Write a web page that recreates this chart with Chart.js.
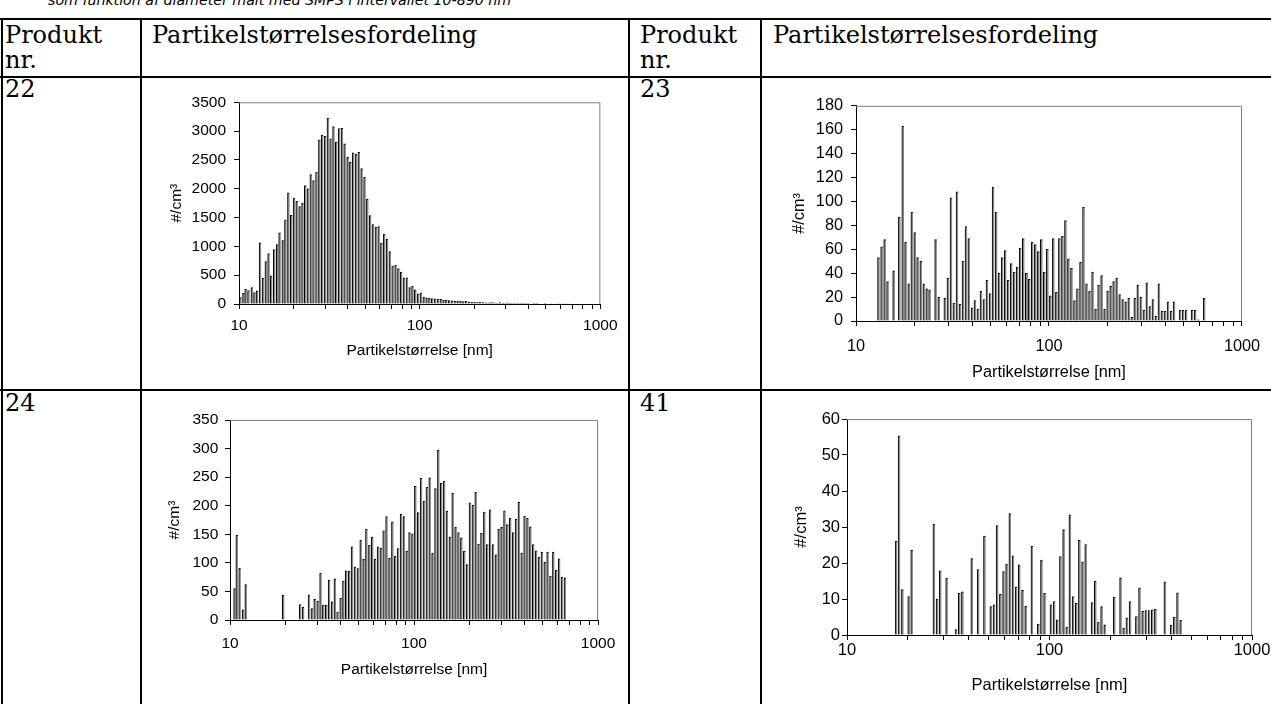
<!DOCTYPE html>
<html lang="da">
<head>
  <meta charset="UTF-8" />
  <title>Partikelstørrelsesfordeling</title>
  <script src="https://cdn.jsdelivr.net/npm/chart.js"></script>
  <style>
    body { margin: 0; width: 1271px; height: 704px; overflow: hidden; background: #fff; position: relative; }
    .line { position: absolute; background: #000; }
    .txt { position: absolute; font-family: "DejaVu Serif", serif; font-size: 24px; line-height: 25px; color: #000; white-space: nowrap; }
    .intro { position: absolute; left: 48px; top: -8px; font-family: "DejaVu Sans", sans-serif; font-style: italic; font-size: 14.2px; line-height: 16px; white-space: nowrap; }
    .box { position: absolute; }
  </style>
</head>
<body>
  <div class="intro">som funktion af diameter målt med SMPS i intervallet 10-890 nm</div>

  <div class="line" style="left:0;top:18px;width:1271px;height:1.5px"></div>
  <div class="line" style="left:0;top:76px;width:1271px;height:1.5px"></div>
  <div class="line" style="left:0;top:389px;width:1271px;height:1.5px"></div>
  <div class="line" style="left:1px;top:18px;width:1.5px;height:686px"></div>
  <div class="line" style="left:140px;top:18px;width:1.5px;height:686px"></div>
  <div class="line" style="left:628px;top:18px;width:1.5px;height:686px"></div>
  <div class="line" style="left:760px;top:18px;width:1.5px;height:686px"></div>

  <div class="txt" style="left:5px;top:23px">Produkt<br>nr.</div>
  <div class="txt" style="left:152px;top:23px">Partikelstørrelsesfordeling</div>
  <div class="txt" style="left:640px;top:23px">Produkt<br>nr.</div>
  <div class="txt" style="left:773px;top:23px">Partikelstørrelsesfordeling</div>
  <div class="txt" style="left:5px;top:77px">22</div>
  <div class="txt" style="left:640px;top:77px">23</div>
  <div class="txt" style="left:5px;top:391px">24</div>
  <div class="txt" style="left:640px;top:391px">41</div>

  <div class="box" style="left:145px;top:85px"><canvas id="c22" width="480" height="290"></canvas></div>
  <div class="box" style="left:770px;top:88px"><canvas id="c23" width="501" height="298"></canvas></div>
  <div class="box" style="left:145px;top:404px"><canvas id="c24" width="480" height="296"></canvas></div>
  <div class="box" style="left:770px;top:406px"><canvas id="c41" width="501" height="294"></canvas></div>

  <script>
    // SMPS channel midpoints, nm (64 channels per decade)
    const diameters = [
      10.2, 10.6, 10.9, 11.3, 11.8, 12.2, 12.6, 13.1, 13.6, 14.1,
      14.6, 15.1, 15.7, 16.3, 16.8, 17.5, 18.1, 18.8, 19.5, 20.2,
      20.9, 21.7, 22.5, 23.3, 24.1, 25.0, 25.9, 26.9, 27.9, 28.9,
      30.0, 31.1, 32.2, 33.4, 34.6, 35.9, 37.2, 38.5, 40.0, 41.4,
      42.9, 44.5, 46.1, 47.8, 49.6, 51.4, 53.3, 55.2, 57.3, 59.4,
      61.5, 63.8, 66.1, 68.5, 71.0, 73.7, 76.4, 79.1, 82.0, 85.1,
      88.2, 91.4, 94.7, 98.2, 101.8, 105.5, 109.4, 113.4, 117.6, 121.9,
      126.3, 131.0, 135.8, 140.7, 145.9, 151.2, 156.8, 162.5, 168.5, 174.7,
      181.1, 187.7, 194.6, 201.7, 209.1, 216.7, 224.7, 232.9, 241.4, 250.3,
      259.5, 269.0, 278.8, 289.0, 299.6, 310.6, 322.0, 333.8, 346.0, 358.7,
      371.8, 385.4, 399.5, 414.2, 429.4, 445.1, 461.4, 478.3, 495.8, 514.0,
      532.8, 552.3, 572.5, 593.5, 615.3, 637.8, 661.2
    ];

    const product22 = [
      110, 190, 255, 235, 285, 200, 230, 1060, 450, 735,
      875, 490, 945, 1030, 1235, 1100, 1460, 1930, 1540, 1840,
      1780, 1690, 1750, 2055, 2000, 2245, 2140, 2290, 2850, 2930,
      2910, 3225, 2865, 3080, 2810, 3045, 3050, 2780, 2545, 2460,
      2625, 2600, 2630, 2350, 2200, 1820, 1535, 1380, 1335, 1345,
      1055, 1210, 1125, 910, 660, 675, 615, 555, 455, 455,
      285, 310, 245, 175, 195, 120, 105, 100, 95, 90,
      85, 80, 70, 65, 60, 55, 50, 50, 45, 40,
      45, 35, 30, 30, 25, 35, 25, 20, 20, 25,
      20, 18, 25, 15, 15, 20, 12, 15, 12, 10,
      15, 10, 12, 8, 10, 10, 8, 8, 10, 8,
      6, 8, 6, 5, 6, 4, 5
    ];

    const product23 = [
      0, 0, 0, 0, 0, 0, 0, 53, 62, 68,
      33, 0, 42, 0, 87, 163, 66, 31, 91, 74,
      53, 50, 31, 27, 26, 0, 68, 20, 0, 19,
      36, 103, 15, 108, 14, 50, 79, 69, 11, 17,
      10, 25, 18, 34, 23, 112, 91, 40, 53, 59,
      34, 48, 41, 45, 61, 69, 40, 35, 66, 64,
      58, 68, 41, 60, 21, 69, 24, 69, 71, 84,
      52, 44, 17, 27, 49, 95, 31, 25, 41, 10,
      30, 38, 10, 25, 29, 33, 36, 22, 18, 16,
      19, 3, 19, 30, 20, 9, 32, 12, 18, 4,
      31, 8, 8, 16, 8, 16, 0, 9, 9, 9,
      0, 9, 9, 1, 0, 19, 0
    ];

    const product24 = [
      0, 55, 148, 91, 18, 62, 0, 0, 0, 0,
      0, 0, 0, 0, 0, 0, 0, 0, 43, 0,
      0, 0, 0, 0, 27, 22, 0, 44, 20, 36,
      33, 82, 26, 26, 70, 32, 72, 14, 38, 68,
      86, 85, 128, 93, 90, 140, 106, 159, 131, 145,
      106, 128, 126, 156, 181, 108, 172, 112, 125, 185,
      181, 120, 153, 151, 234, 188, 248, 208, 232, 249,
      117, 230, 297, 239, 243, 190, 145, 222, 162, 153,
      144, 120, 97, 205, 201, 224, 133, 152, 189, 132,
      193, 132, 114, 159, 162, 191, 167, 178, 153, 176,
      206, 117, 182, 178, 163, 132, 121, 110, 119, 101,
      119, 77, 119, 87, 107, 75, 74
    ];

    const product41 = [
      0, 0, 0, 0, 0, 0, 0, 0, 0, 0,
      0, 0, 0, 0, 0, 26, 55.3, 12.6, 0, 10.7,
      23.5, 0, 0, 0, 0, 0, 0, 30.8, 10, 17.8,
      0, 15.8, 0, 0, 1.5, 11.6, 12, 0, 0, 21.2,
      0, 18.2, 0, 27.5, 0, 7.9, 8.4, 30.4, 11.3, 17.6,
      19.7, 33.7, 22, 13.3, 19.5, 12.4, 8, 0, 24.6, 0,
      3, 20.8, 11.6, 0, 8.4, 9.3, 4.2, 21.8, 29.3, 2.2,
      33.4, 10.7, 8.8, 26.4, 20.3, 25.1, 0, 9, 14.9, 3.6,
      7.9, 2.8, 0, 0, 10.5, 0, 15.9, 1.9, 4.8, 9.3,
      0, 5.1, 13.1, 6.6, 6.8, 6.8, 7, 7.1, 0, 0,
      14.8, 0, 2.7, 5, 11.7, 4.1, 0, 0, 0, 0,
      0, 0, 0, 0, 0, 0, 0
    ];

    const xTickValues = [10, 20, 30, 40, 50, 60, 70, 80, 90, 100, 200, 300, 400, 500, 600, 700, 800, 900, 1000];
    const xTickLabels = [10, 100, 1000];
    const xTitle = 'Partikelstørrelse [nm]';
    const yTitle = '#/cm³';

    // plot frame (grey top and right edge like the Excel original)
    const plotFrame = {
      id: 'plotFrame',
      beforeDatasetsDraw(chart) {
        const { ctx, chartArea: a } = chart;
        ctx.save();
        ctx.strokeStyle = '#808080';
        ctx.lineWidth = 1;
        ctx.beginPath();
        ctx.moveTo(a.left, a.top + 0.5);
        ctx.lineTo(a.right - 0.5, a.top + 0.5);
        ctx.lineTo(a.right - 0.5, a.bottom);
        ctx.stroke();
        ctx.restore();
      }
    };

    function makeChart(id, values, g) {
      const canvas = document.getElementById(id);
      const font = { family: 'Liberation Sans, Arial, sans-serif', size: g.font };
      const yAxisW = g.area.l - g.box.x;
      const xAxisH = g.box.y + g.box.h - g.area.b;

      return new Chart(canvas, {
        type: 'bar',
        data: {
          labels: diameters,
          datasets: [{
            data: values,
            backgroundColor: '#8a8a8a',
            borderColor: '#000',
            borderWidth: { left: 1, top: 1, right: 0, bottom: 0 },
            barThickness: g.bar
          }]
        },
        options: {
          responsive: false,
          animation: false,
          layout: { padding: { left: 0, top: g.area.t - g.box.y, right: g.box.x + g.box.w - g.area.r, bottom: 0 } },
          plugins: { legend: { display: false }, tooltip: { enabled: false } },
          scales: {
            x: {
              type: 'logarithmic',
              min: 10,
              max: 1000,
              offset: false,
              grid: { drawOnChartArea: false, drawTicks: true, tickLength: 5, tickColor: '#000', offset: false },
              border: { color: '#000', width: 1 },
              afterBuildTicks: s => { s.ticks = xTickValues.map(v => ({ value: v })); },
              ticks: {
                autoSkip: false, maxRotation: 0, padding: g.xPad, color: '#000', font,
                callback: v => xTickLabels.includes(v) ? String(v) : ''
              },
              title: { display: true, text: xTitle, color: '#000', font, padding: { top: 0, bottom: g.titlePad } },
              afterFit: s => { s.height = xAxisH; }
            },
            y: {
              min: 0,
              max: g.yMax,
              grid: { drawOnChartArea: false, drawTicks: true, tickLength: 5, tickColor: '#000' },
              border: { color: '#000', width: 1 },
              ticks: { stepSize: g.yStep, padding: g.yPad, color: '#000', font, callback: v => String(v) },
              title: { display: true, text: yTitle, color: '#000', font, padding: { top: g.yTitlePad, bottom: 0 } },
              afterFit: s => { s.width = yAxisW; }
            }
          }
        },
        plugins: [plotFrame]
      });
    }

    makeChart('c22', product22, {
      box: { x: 145, y: 85, w: 480, h: 290 }, area: { l: 239, t: 99, r: 603, b: 304 },
      font: 15.5, bar: 2.1, yMax: 3500, yStep: 500, xPad: 7.4, titlePad: 14.7, yTitlePad: 22.7, yPad: 8
    });
    makeChart('c23', product23, {
      box: { x: 770, y: 88, w: 501, h: 298 }, area: { l: 856, t: 101, r: 1252, b: 321 },
      font: 16.3, bar: 2.2, yMax: 180, yStep: 20, xPad: 10.9, titlePad: 3.5, yTitlePad: 19.5, yPad: 8
    });
    makeChart('c24', product24, {
      box: { x: 145, y: 404, w: 480, h: 296 }, area: { l: 230, t: 417, r: 603, b: 620 },
      font: 15.5, bar: 2.1, yMax: 350, yStep: 50, xPad: 9.7, titlePad: 21.4, yTitlePad: 20.7, yPad: 6.7
    });
    makeChart('c41', product41, {
      box: { x: 770, y: 406, w: 501, h: 294 }, area: { l: 847, t: 419, r: 1252, b: 635 },
      font: 16.5, bar: 2.2, yMax: 60, yStep: 10, xPad: 0.5, titlePad: 5.1, yTitlePad: 21.8, yPad: 2
    });
  </script>
</body>
</html>
